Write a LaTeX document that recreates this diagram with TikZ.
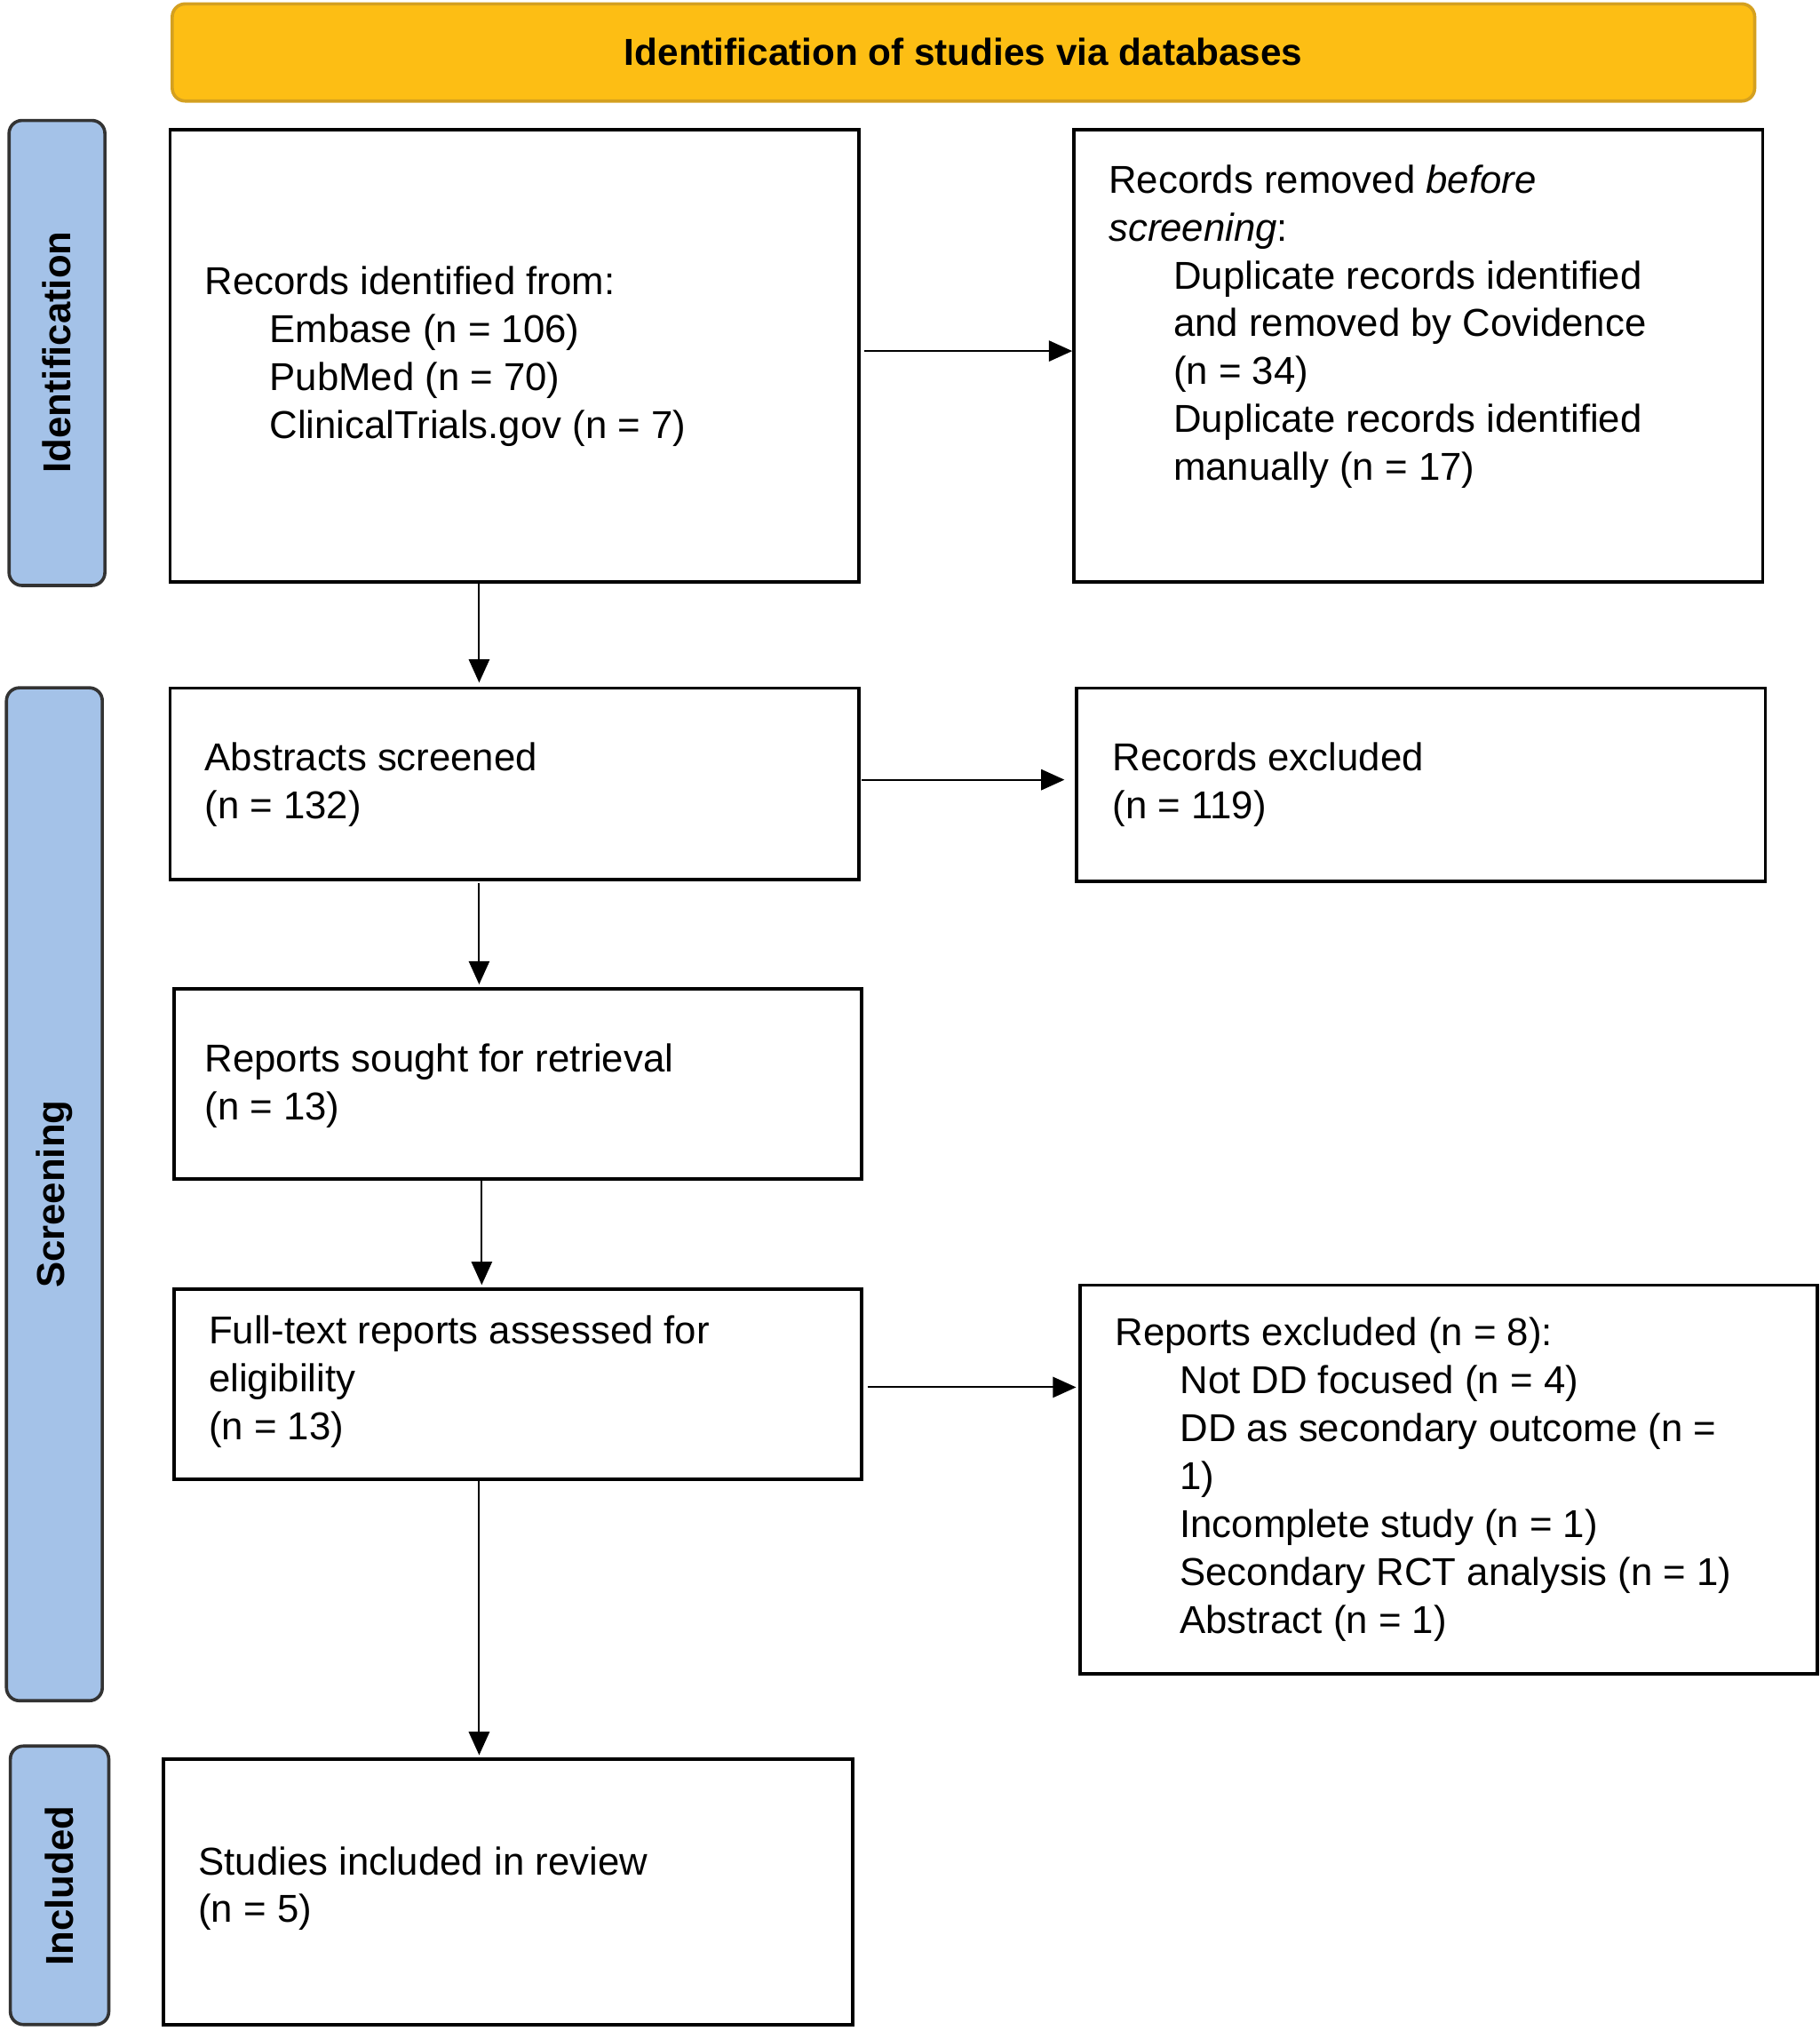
\documentclass[tikz,border=0pt]{standalone}
\usepackage{fontspec}
\setmainfont{Liberation Sans}
\usetikzlibrary{arrows.meta}
\begin{document}
\begin{tikzpicture}[x=1pt,y=-1pt,
  box/.style={draw=black,line width=2.5pt},
  side/.style={draw=black!80,line width=2.5pt,fill=sideblue,rounded corners=10pt},
  txt/.style={align=left,inner sep=0pt,font=\fontsize{30}{37}\selectfont},
  lab/.style={font=\fontsize{30}{36}\selectfont\bfseries,rotate=90},
  arr/.style={line width=1.3pt,-{Triangle[length=18pt,width=16pt]}}]
\definecolor{sideblue}{HTML}{A4C2E8}
\definecolor{hdr}{HTML}{FDBE14}
\definecolor{hdrb}{HTML}{D4A020}
\useasboundingbox (0,0) rectangle (1405,1568);
\fill[white] (0,0) rectangle (1405,1568);
% header
\draw[draw=hdrb,line width=2.5pt,fill=hdr,rounded corners=10pt] (133,3) rectangle (1355,78);
\node[font=\fontsize{29}{34}\selectfont\bfseries] (hdr) at (744,40) {Identification of studies via databases};
% side labels
\draw[side] (7,93) rectangle (81,452); \node[lab] (lid) at (44,272) {Identification};
\draw[side] (5,531) rectangle (79,1313); \node[lab] (lsc) at (42,922) {Screening};
\draw[side] (8,1348) rectangle (84,1563); \node[lab] (lin) at (46,1456) {Included};
% boxes
\node[box,minimum width=532pt,minimum height=349pt,anchor=north west] (b1) at (130,99) {};
\node[box,minimum width=532pt,minimum height=349pt,anchor=north west] (b2) at (828,99) {};
\node[box,minimum width=532pt,minimum height=148pt,anchor=north west] (b3) at (130,530) {};
\node[box,minimum width=532pt,minimum height=149pt,anchor=north west] (b4) at (830,530) {};
\node[box,minimum width=531pt,minimum height=147pt,anchor=north west] (b5) at (133,762) {};
\node[box,minimum width=531pt,minimum height=147pt,anchor=north west] (b6) at (133,994) {};
\node[box,minimum width=569pt,minimum height=300pt,anchor=north west] (b7) at (833,991) {};
\node[box,minimum width=532pt,minimum height=205pt,anchor=north west] (b8) at (125,1357) {};
% texts
\node[txt,anchor=west] (t1) at (158,275) {Records identified from:\\\hspace*{50pt}Embase (n = 106)\\\hspace*{50pt}PubMed (n = 70)\\\hspace*{50pt}ClinicalTrials.gov (n = 7)};
\node[txt,anchor=north west] (t2) at (856,127) {Records removed \textit{before}\\\textit{screening}:\\\hspace*{50pt}Duplicate records identified\\\hspace*{50pt}and removed by Covidence\\\hspace*{50pt}(n = 34)\\\hspace*{50pt}Duplicate records identified\\\hspace*{50pt}manually (n = 17)};
\node[txt,anchor=west] (t3) at (158,606) {Abstracts screened\\(n = 132)};
\node[txt,anchor=west] (t4) at (859,606) {Records excluded\\(n = 119)};
\node[txt,anchor=west] (t5) at (158,838) {Reports sought for retrieval\\(n = 13)};
\node[txt,anchor=west] (t6) at (161,1067) {Full-text reports assessed for\\eligibility\\(n = 13)};
\node[txt,anchor=west] (t7) at (861,1142) {Reports excluded (n = 8):\\\hspace*{50pt}Not DD focused (n = 4)\\\hspace*{50pt}DD as secondary outcome (n =\\\hspace*{50pt}1)\\\hspace*{50pt}Incomplete study (n = 1)\\\hspace*{50pt}Secondary RCT analysis (n = 1)\\\hspace*{50pt}Abstract (n = 1)};
\node[txt,anchor=west] (t8) at (153,1458) {Studies included in review\\(n = 5)};
% arrows
\draw[arr] (b1.east|-0,271) ++(3,0) -- (b2.west|-0,271);
\draw[arr] (370,448) -- (370,527);
\draw[arr] (665,602) -- (822,602);
\draw[arr] (370,682) -- (370,760);
\draw[arr] (372,909) -- (372,992);
\draw[arr] (670,1071) -- (831,1071);
\draw[arr] (370,1141) -- (370,1355);
\end{tikzpicture}
\end{document}
